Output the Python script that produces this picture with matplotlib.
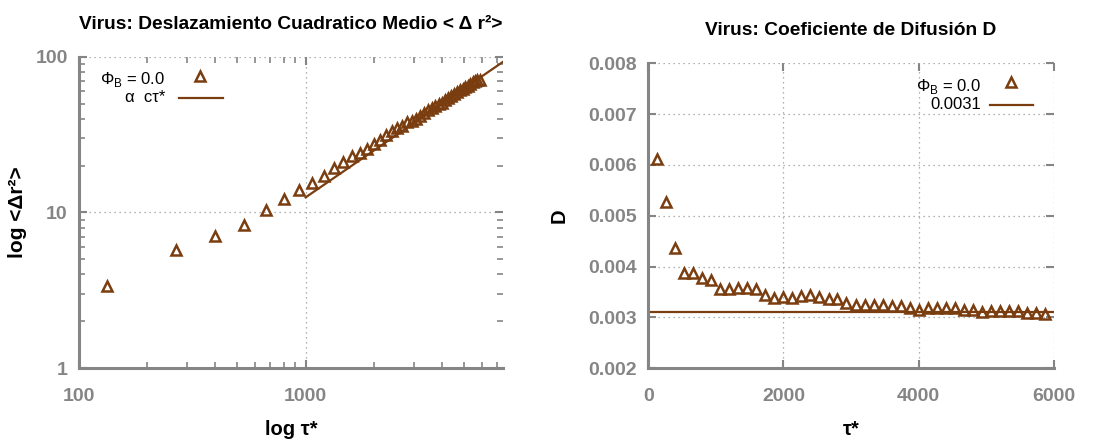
import matplotlib.pyplot as plt
from matplotlib.ticker import FixedLocator, NullFormatter

plt.rcParams['font.family'] = ['Liberation Sans', 'DejaVu Sans']

# Datos
tau = [133, 267, 400, 533, 667, 800, 933, 1067, 1200, 1333, 1467, 1600, 1733, 1867,
       2000, 2133, 2267, 2400, 2533, 2667, 2800, 2933, 3067, 3200, 3333, 3467, 3600,
       3733, 3867, 4000, 4133, 4267, 4400, 4533, 4667, 4800, 4933, 5067, 5200, 5333,
       5467, 5600, 5733, 5867]
msd = [3.35, 5.7, 7.1, 8.35, 10.4, 12.2, 14.0, 15.4, 17.1, 19.2, 21.1, 22.9, 24.1, 25.5,
       27.5, 29.2, 31.4, 33.4, 34.9, 36.2, 38.1, 38.9, 40.1, 41.9, 43.6, 45.3, 46.8,
       48.5, 49.6, 50.8, 53.0, 54.7, 56.4, 58.1, 59.2, 60.9, 61.8, 63.6, 65.3, 67.0,
       68.6, 69.6, 71.2, 71.5]
D = [0.00611, 0.00528, 0.00437, 0.00388, 0.00388, 0.00378, 0.00374, 0.00356, 0.00355,
     0.00358, 0.00358, 0.00355, 0.00344, 0.00339, 0.00341, 0.00339, 0.00343, 0.00345,
     0.00341, 0.00336, 0.00337, 0.00328, 0.00324, 0.00324, 0.00324, 0.00324, 0.00322,
     0.00322, 0.00318, 0.00315, 0.00318, 0.00318, 0.00318, 0.00318, 0.00315, 0.00315,
     0.00311, 0.00312, 0.00312, 0.00312, 0.00312, 0.00309, 0.00309, 0.00307]
fit_tau = [1000, 7400]
c_fit = 0.0125
D_fit = 0.0031

brown = '#7a3d10'
gray = '#858585'
msize = 6.5

fig = plt.figure(figsize=(11.12, 4.44), dpi=100)
ax1 = fig.add_axes([0.071, 0.171, 0.381, 0.701])
ax2 = fig.add_axes([0.583, 0.1705, 0.3646, 0.687])


def estilo(ax):
    for s in ['top', 'right']:
        ax.spines[s].set_visible(False)
    for s in ['left', 'bottom']:
        ax.spines[s].set_color(gray)
        ax.spines[s].set_linewidth(2.2)
    ax.tick_params(which='both', direction='in', color=gray, top=True, right=True)
    ax.tick_params(which='major', length=6, width=1.5, labelsize=14, labelcolor=gray)
    ax.tick_params(which='minor', length=4, width=1.2)
    for lab in ax.get_xticklabels() + ax.get_yticklabels():
        lab.set_fontweight('bold')
    ax.grid(True, which='major', linestyle=(0, (1, 3)), color='#999999', linewidth=0.9)


# Panel izquierdo
ax1.set_xscale('log')
ax1.set_yscale('log')
ax1.plot(tau, msd, linestyle='none', marker='^', markersize=msize,
         markerfacecolor='none', markeredgecolor=brown, markeredgewidth=1.8, clip_on=False)
ax1.plot(fit_tau, [c_fit * t for t in fit_tau], color=brown, linewidth=1.6)
ax1.set_xlim(100, 7400)
ax1.set_ylim(1, 100)
ax1.xaxis.set_major_locator(FixedLocator([100, 1000]))
ax1.set_xticklabels(['100', '1000'])
ax1.xaxis.set_minor_locator(FixedLocator([200, 300, 400, 500, 600, 700, 800, 900,
                                          2000, 3000, 4000, 5000, 6000, 7000]))
ax1.xaxis.set_minor_formatter(NullFormatter())
ax1.yaxis.set_major_locator(FixedLocator([1, 10, 100]))
ax1.set_yticklabels(['1', '10', '100'])
ax1.yaxis.set_minor_locator(FixedLocator([2, 3, 4, 5, 6, 7, 8, 9,
                                          20, 30, 40, 50, 60, 70, 80, 90]))
ax1.yaxis.set_minor_formatter(NullFormatter())
estilo(ax1)
ax1.tick_params(axis='x', pad=14)
ax1.tick_params(axis='y', pad=8)
ax1.set_title('Virus: Deslazamiento Cuadratico Medio < Δ r²>', fontsize=13.8,
              fontweight='bold', pad=20)
ax1.set_xlabel('log τ*', fontsize=14.5, fontweight='bold', labelpad=11)
ax1.set_ylabel('log <Δr²>', fontsize=15, fontweight='bold', labelpad=6)

# leyenda izquierda
ax1.text(0.203, 0.926, 'Φ$_\\mathregular{B}$ = 0.0', transform=ax1.transAxes,
         ha='right', va='center', fontsize=12)
ax1.text(0.203, 0.868, 'α  cτ*', transform=ax1.transAxes,
         ha='right', va='center', fontsize=12)
ax1.plot([0.285], [0.94], transform=ax1.transAxes, marker='^', markersize=msize,
         markerfacecolor='none', markeredgecolor=brown, markeredgewidth=1.8)
ax1.plot([0.236, 0.340], [0.868, 0.868], transform=ax1.transAxes, color=brown,
         linewidth=1.6)

# Panel derecho
ax2.plot(tau, D, linestyle='none', marker='^', markersize=msize,
         markerfacecolor='none', markeredgecolor=brown, markeredgewidth=1.8, clip_on=False)
ax2.plot([0, 6000], [D_fit, D_fit], color=brown, linewidth=1.6)
ax2.set_xlim(0, 6000)
ax2.set_ylim(0.002, 0.008)
ax2.set_xticks([0, 2000, 4000, 6000])
ax2.set_xticklabels(['0', '2000', '4000', '6000'])
ax2.set_yticks([0.002, 0.003, 0.004, 0.005, 0.006, 0.007, 0.008])
ax2.set_yticklabels(['0.002', '0.003', '0.004', '0.005', '0.006', '0.007', '0.008'])
estilo(ax2)
ax2.tick_params(axis='x', pad=14)
ax2.tick_params(axis='y', pad=8)
ax2.set_title('Virus: Coeficiente de Difusión D', fontsize=13.8, fontweight='bold', pad=20)
ax2.set_xlabel('τ*', fontsize=14.5, fontweight='bold', labelpad=11)
ax2.set_ylabel('D', fontsize=14.5, fontweight='bold', labelpad=14)

# leyenda derecha
ax2.text(0.821, 0.925, 'Φ$_\\mathregular{B}$ = 0.0', transform=ax2.transAxes,
         ha='right', va='center', fontsize=12)
ax2.text(0.821, 0.864, '0.0031', transform=ax2.transAxes,
         ha='right', va='center', fontsize=12)
ax2.plot([0.895], [0.94], transform=ax2.transAxes, marker='^', markersize=msize,
         markerfacecolor='none', markeredgecolor=brown, markeredgewidth=1.8)
ax2.plot([0.843, 0.949], [0.864, 0.864], transform=ax2.transAxes, color=brown,
         linewidth=1.6)

fig.savefig('out.png', dpi=100)
